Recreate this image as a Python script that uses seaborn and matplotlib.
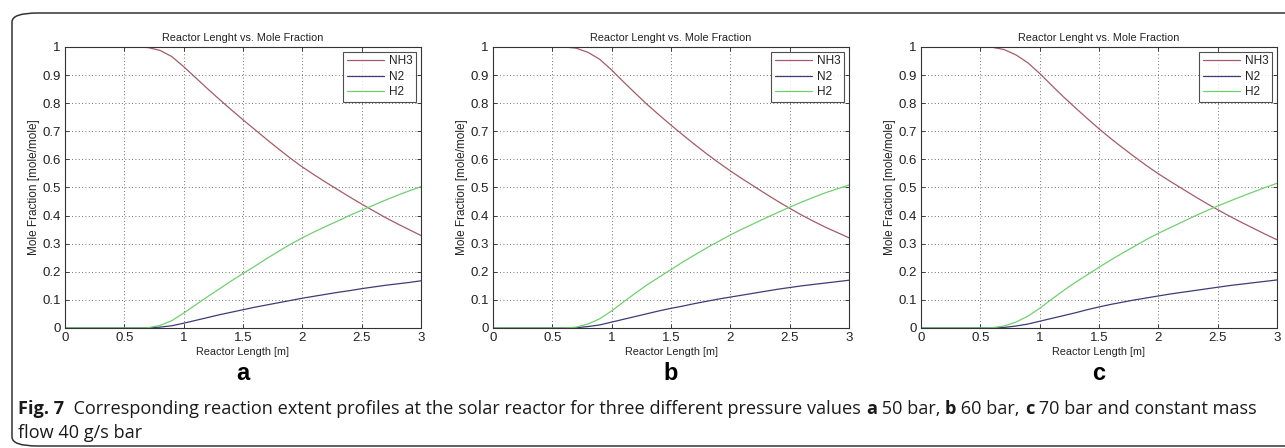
import numpy as np
import pandas as pd
import matplotlib
matplotlib.use("Agg")
import matplotlib.pyplot as plt
from matplotlib.patches import FancyBboxPatch
import seaborn as sns

# reactor length [m]
length = [0, 0.5, 0.6, 0.7, 0.8, 0.9, 1.0, 1.1, 1.2, 1.3, 1.4, 1.5, 1.6, 1.7,
          1.8, 1.9, 2.0, 2.1, 2.2, 2.3, 2.4, 2.5, 2.6, 2.7, 2.8, 2.9, 3.0]

# (a) 50 bar
nh3_a = [1, 1, 1, 0.998, 0.988, 0.966, 0.930, 0.891, 0.852, 0.814, 0.777, 0.741, 0.706, 0.671,
         0.637, 0.604, 0.573, 0.545, 0.518, 0.492, 0.466, 0.441, 0.417, 0.393, 0.371, 0.350, 0.329]
n2_a = [0, 0, 0, 0.001, 0.003, 0.008, 0.017, 0.027, 0.037, 0.047, 0.056, 0.065, 0.074, 0.082,
        0.090, 0.098, 0.106, 0.113, 0.120, 0.127, 0.133, 0.140, 0.146, 0.152, 0.157, 0.162, 0.168]
h2_a = [0, 0, 0, 0.001, 0.009, 0.026, 0.053, 0.082, 0.111, 0.139, 0.167, 0.194, 0.220, 0.247,
        0.273, 0.298, 0.321, 0.342, 0.362, 0.381, 0.401, 0.419, 0.437, 0.455, 0.472, 0.488, 0.503]

# (b) 60 bar
nh3_b = [1, 1, 1, 0.996, 0.981, 0.956, 0.918, 0.876, 0.835, 0.795, 0.758, 0.722, 0.687, 0.653,
         0.620, 0.589, 0.559, 0.531, 0.504, 0.477, 0.451, 0.426, 0.402, 0.380, 0.359, 0.340, 0.321]
n2_b = [0, 0, 0, 0.001, 0.005, 0.011, 0.021, 0.031, 0.041, 0.051, 0.061, 0.070, 0.078, 0.087,
        0.095, 0.103, 0.110, 0.117, 0.124, 0.131, 0.138, 0.144, 0.150, 0.155, 0.160, 0.165, 0.170]
h2_b = [0, 0, 0, 0.003, 0.014, 0.033, 0.061, 0.093, 0.124, 0.154, 0.181, 0.208, 0.235, 0.260,
        0.285, 0.308, 0.331, 0.352, 0.372, 0.392, 0.411, 0.430, 0.448, 0.465, 0.481, 0.495, 0.509]

# (c) 70 bar
nh3_c = [1, 1, 0.999, 0.991, 0.972, 0.944, 0.906, 0.864, 0.823, 0.784, 0.746, 0.709, 0.674, 0.641,
         0.609, 0.578, 0.549, 0.522, 0.496, 0.470, 0.445, 0.421, 0.398, 0.376, 0.355, 0.334, 0.314]
n2_c = [0, 0, 0, 0.002, 0.007, 0.014, 0.024, 0.034, 0.044, 0.054, 0.065, 0.075, 0.084, 0.092,
        0.100, 0.107, 0.114, 0.121, 0.127, 0.133, 0.139, 0.145, 0.151, 0.156, 0.161, 0.166, 0.171]
h2_c = [0, 0, 0.001, 0.007, 0.021, 0.042, 0.070, 0.102, 0.133, 0.162, 0.189, 0.216, 0.242, 0.267,
        0.291, 0.315, 0.337, 0.357, 0.377, 0.397, 0.416, 0.434, 0.451, 0.468, 0.484, 0.500, 0.515]

panel_letters = ["a", "b", "c"]
species = ["NH3", "N2", "H2"]
colors = {"NH3": "#a45c68", "N2": "#3c3c78", "H2": "#70d070"}

panels = [(nh3_a, n2_a, h2_a), (nh3_b, n2_b, h2_b), (nh3_c, n2_c, h2_c)]

sns.set_theme(style="white")
plt.rcParams["font.family"] = ["Liberation Sans", "DejaVu Sans"]

fig = plt.figure(figsize=(12.85, 4.48), dpi=100)
W, H = 1285, 448

# rounded frame around the figure + caption
frame = FancyBboxPatch((12 / W, 2 / H), 1.2, 1 - 13 / H - 2 / H,
                       boxstyle="round,pad=0,rounding_size=0.02",
                       transform=fig.transFigure, fill=False,
                       edgecolor="#333333", linewidth=1.1, clip_on=False)
fig.patches.append(frame)

lefts = [65, 493, 921]
for i, (nh3, n2, h2) in enumerate(panels):
    ax = fig.add_axes([lefts[i] / W, 1 - 328 / H, 356 / W, 281 / H])
    df = pd.DataFrame({
        "length": length * 3,
        "frac": nh3 + n2 + h2,
        "species": [s for s in species for _ in length],
    })
    sns.lineplot(data=df, x="length", y="frac", hue="species", palette=colors,
                 linewidth=0.9, ax=ax, legend=True)
    ax.set_xlim(0, 3)
    ax.set_ylim(0, 1)
    ax.set_xticks([0, 0.5, 1, 1.5, 2, 2.5, 3])
    ax.set_xticklabels(["0", "0.5", "1", "1.5", "2", "2.5", "3"])
    ax.set_yticks(np.arange(0, 1.01, 0.1))
    ax.set_yticklabels(["0", "0.1", "0.2", "0.3", "0.4", "0.5", "0.6", "0.7", "0.8", "0.9", "1"])
    ax.grid(True, color="#444444", linestyle=(0, (1, 3)), linewidth=0.6)
    ax.tick_params(direction="in", length=3, width=0.6, labelsize=9.5, colors="#222222",
                   top=True, right=True, bottom=True, left=True, pad=3)
    for sp in ax.spines.values():
        sp.set_color("#333333")
        sp.set_linewidth(0.8)
    ax.set_title("Reactor Lenght vs. Mole Fraction", fontsize=7.8, color="#222222", pad=4)
    ax.set_xlabel("Reactor Length [m]", fontsize=7.8, color="#222222", labelpad=2)
    ax.set_ylabel("Mole Fraction [mole/mole]", fontsize=8.5, color="#222222", labelpad=2)
    leg = ax.legend(loc="upper right", fontsize=8.5, frameon=True, fancybox=False,
                    edgecolor="#222222", handlelength=3.2, borderaxespad=0.4,
                    borderpad=0.3, labelspacing=0.3, handletextpad=0.4)
    leg.get_frame().set_linewidth(0.8)
    for t in leg.get_texts():
        t.set_color("#222222")
    cx = (lefts[i] + 178) / W
    fig.text(cx, 1 - 373 / H, panel_letters[i], ha="center", va="center",
             fontsize=17, fontweight="bold", family="Liberation Sans", color="black")

# caption with mixed bold / regular pieces
renderer = fig.canvas.get_renderer()


def put_row(x_px, y_px, pieces, size=13.05):
    x = x_px / W
    for text, weight in pieces:
        t = fig.text(x, 1 - y_px / H, text, fontsize=size, fontweight=weight,
                     family="Open Sans", va="center", ha="left", color="#1a1a1a")
        x += t.get_window_extent(renderer).width / W


put_row(18, 409, [("Fig. 7", "bold"),
                  ("  Corresponding reaction extent profiles at the solar reactor for three different pressure values ", "normal"),
                  ("a", "bold"), (" 50 bar, ", "normal"),
                  ("b", "bold"), (" 60 bar, ", "normal"),
                  ("c", "bold"), (" 70 bar and constant mass", "normal")])
put_row(18, 433, [("flow 40 g/s bar", "normal")])

fig.savefig("out.png", dpi=100)
